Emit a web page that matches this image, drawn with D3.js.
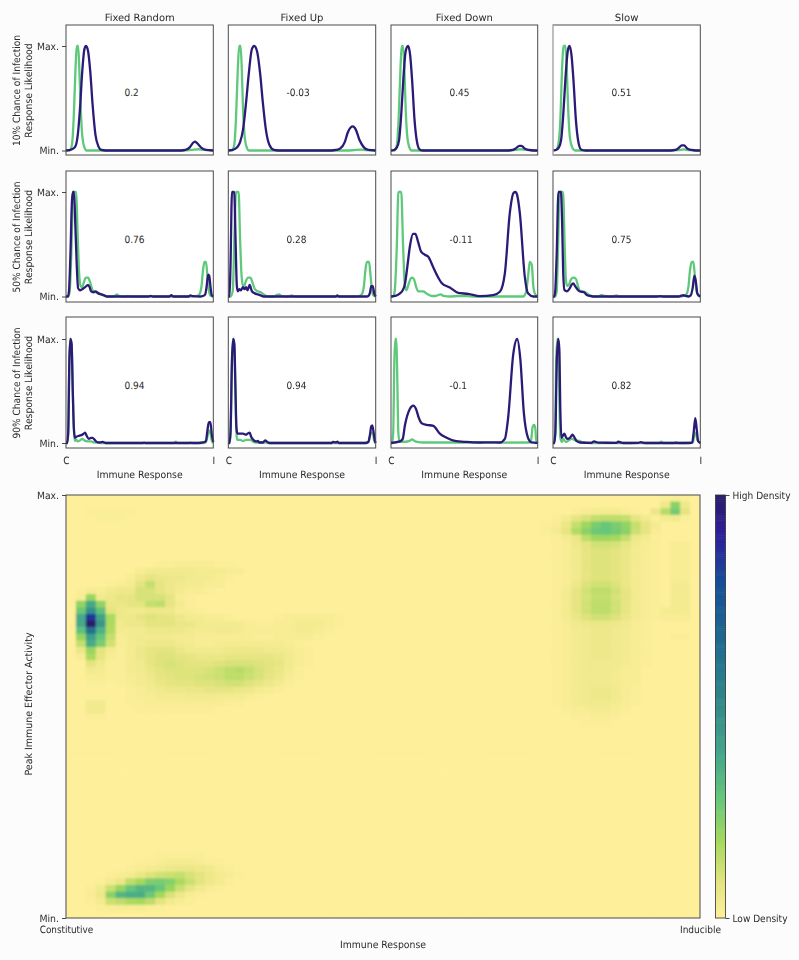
<!DOCTYPE html>
<html><head><meta charset="utf-8">
<script src="https://cdn.jsdelivr.net/npm/d3@7/dist/d3.min.js"></script>
<style>html,body{margin:0;padding:0;background:#fcfcfc}svg{display:block;opacity:.999}text{font-family:"DejaVu Sans",sans-serif;font-size:10px;fill:#2a2a2a;text-rendering:geometricPrecision}</style>
</head><body><svg id="c" width="799" height="960"></svg>
<script>
const columnTitles = ["Fixed Random","Fixed Up","Fixed Down","Slow"];
const rowLabels = ["10% Chance of Infection","50% Chance of Infection","90% Chance of Infection"];
const correlations = [[0.2,-0.03,0.45,0.51],[0.76,0.28,-0.11,0.75],[0.94,0.94,-0.1,0.82]];
const yTickLabels = ["Min.","Max."];
const xTickLabels = ["C","I"];

// each line: [immune response 0-100, likelihood 0-1]
const g10a = [[0,0],[2.5,0],[4,.05],[5.2,.3],[6.5,.8],[7.3,1],[8.2,1],[9,.8],[10,.4],[11,.15],[12.5,.03],[14,0],[80,0],[85,.005],[90,.012],[93,.005],[100,0]];
const p10a = [[0,0],[3,.005],[6,.03],[8,.15],[9.5,.4],[11,.75],[12.5,.97],[13.6,1],[15,.95],[16.5,.75],[18,.45],[20,.15],[22,.04],[24,.005],[27,0],[78,0],[81,.005],[84,.03],[86,.07],[87.5,.085],[89,.07],[92,.025],[95,.005],[100,0]];
const g10b = [[0,0],[2.5,0],[4,.05],[5.2,.3],[6.5,.8],[7.4,1],[8.3,1],[9.1,.8],[10,.4],[11,.15],[12.5,.03],[14,0],[80,0],[85,.003],[90,.008],[93,.003],[100,0]];
const p10b = [[0,0],[3,.005],[6,.03],[8,.08],[10,.2],[12,.45],[14,.75],[16,.97],[17.6,1],[19.5,.95],[21.5,.75],[23.5,.45],[25.5,.2],[28,.05],[31,.005],[34,0],[70,0],[73,.005],[76,.02],[79,.08],[81,.17],[83,.22],[84.5,.23],[86.5,.2],[89,.1],[92,.03],[95,.005],[100,0]];
const g10c = [[0,0],[2.5,0],[4,.05],[5.2,.3],[6.5,.8],[7.3,1],[8.2,1],[9.1,.8],[10,.4],[11,.15],[12.5,.03],[14,0],[80,0],[85,.005],[88,.012],[92,.005],[100,0]];
const p10c = [[0,0],[2,.005],[4,.03],[5.5,.1],[7,.35],[8.5,.7],[10,.95],[11.6,1],[13,.92],[14.5,.65],[16,.3],[17.5,.1],[19.5,.01],[22,0],[80,0],[83,.005],[85,.02],[87.5,.045],[89,.045],[91,.02],[94,.005],[97,0],[100,0]];
const g10d = [[0,0],[2,.005],[3.5,.05],[5,.3],[6.2,.8],[7.2,1],[8.4,1],[9.3,.8],[10.3,.4],[11.5,.12],[13,.03],[15,0],[80,0],[85,.003],[89,.01],[92,.003],[100,0]];
const p10d = [[0,0],[2,.005],[4,.03],[5.5,.1],[7,.35],[8.5,.7],[10,.95],[11.1,1],[12.5,.92],[14,.65],[15.5,.3],[17,.1],[19,.01],[22,0],[80,0],[83,.005],[85,.02],[87.5,.05],[89,.05],[91,.02],[94,.005],[97,0],[100,0]];

const g50a = [[0,0],[1.5,0],[2.5,.05],[3.8,.5],[4.8,1],[6.8,1],[8,.55],[9,.2],[10,.1],[11,.09],[12,.13],[13.5,.18],[15,.18],[16.5,.13],[18,.06],[20,.04],[22,.03],[24,.02],[26,.005],[28,0],[32,0],[33.5,.01],[34.5,.02],[36,.005],[40,0],[42,.005],[44,0],[85,0],[89,.005],[90.5,.02],[92,.1],[93,.25],[94,.33],[95,.33],[96,.2],[97,.06],[98,.01],[100,0]];
const p50a = [[0,0],[1.3,0],[2,.05],[3,.4],[4,.9],[4.7,1],[5.4,1],[6.3,.7],[7.3,.3],[8.2,.08],[9.5,.06],[11,.07],[13,.09],[15,.11],[16,.09],[17,.05],[18.5,.04],[20,.05],[22,.03],[24,.02],[26,.01],[28,0],[56,0],[57.5,.006],[59,0],[70,0],[71.5,.012],[73,0],[83,0],[84.5,.01],[86,.004],[91,0],[93,.005],[94.5,.02],[95.5,.1],[96.5,.21],[97.2,.2],[98.2,.08],[99,.01],[100,0]];
const g50b = [[0,0],[1.5,0],[3,.05],[4.2,.6],[5.2,1],[7,1],[8,.55],[9,.2],[10,.1],[11,.11],[12,.15],[13.5,.18],[15,.18],[16.5,.13],[18,.07],[20,.05],[22,.04],[24,.02],[26,.005],[28,0],[31,0],[33,.015],[34.5,.02],[36,.005],[40,0],[43,.01],[45,0],[85,0],[89,.005],[90.5,.02],[92,.1],[93,.25],[94,.33],[95.5,.33],[96.5,.2],[97.5,.06],[98.5,.01],[100,0]];
const p50b = [[0,0],[.8,0],[1.5,.3],[2.5,1],[4,1],[5,.5],[5.8,.1],[6.5,.05],[7.5,.07],[8.5,.06],[10,.09],[11,.07],[12,.09],[13,.06],[14.5,.11],[16,.05],[18,.03],[20,.02],[22,.01],[24,0],[73,0],[74,.01],[75,0],[94,0],[95,.005],[96,.03],[97,.1],[98,.1],[99,.03],[100,0]];
const g50c = [[0,0],[1.5,0],[2.5,.05],[4,.5],[5,1],[7,1],[8.2,.5],[9.5,.1],[10.5,.06],[12,.12],[14,.18],[15.5,.17],[17,.1],[18.5,.05],[20,.05],[22,.05],[24,.03],[26,.015],[28,.005],[30,.005],[33.8,.02],[36,.005],[40,0],[46,.005],[52,.005],[56,0],[90,0],[92,.04],[93.5,.2],[94.6,.33],[96,.3],[97,.1],[98,.03],[100,0]];
const p50c = [[0,0],[3,.005],[6.1,.03],[8,.06],[9.5,.12],[11,.27],[13,.49],[15,.6],[16.6,.6],[18.5,.52],[20.5,.43],[23.1,.4],[25.4,.38],[28.8,.28],[31.5,.2],[34.5,.13],[40.1,.086],[45.8,.035],[52.7,.025],[60.6,.003],[69.6,.013],[74.2,.045],[77.6,.22],[81,.8],[83.5,.99],[84.8,1],[86,.97],[87.8,.8],[91.2,.19],[93.4,.03],[97,0],[100,0]];
const g50d = [[0,0],[1.5,0],[2.5,.05],[3.5,.5],[4.4,1],[6.8,1],[7.9,.5],[8.8,.15],[9.8,.1],[11,.12],[12.5,.17],[14,.18],[15.5,.17],[17,.1],[18.5,.05],[20,.05],[22,.04],[24,.02],[26,.005],[30,0],[31.5,.005],[33,.015],[35,.005],[40,0],[43,.01],[45,0],[85,0],[89,.005],[90.5,.02],[92,.1],[93,.25],[94.2,.33],[95.3,.33],[96.3,.2],[97.3,.06],[98.5,.01],[100,0]];
const p50d = [[0,0],[.8,0],[1.5,.05],[2.5,.4],[3.7,1],[5.4,1],[6.2,.7],[7,.2],[7.8,.06],[9.5,.05],[11,.07],[12.5,.11],[13.8,.125],[15,.1],[16.5,.07],[18,.05],[19.5,.045],[21,.04],[23,.015],[25,.005],[27,0],[70,0],[73,.003],[75,0],[85,0],[88.5,.012],[90,.005],[92,0],[93.5,.01],[94.8,.08],[96,.2],[97,.14],[98,.03],[99,.01],[100,0]];

const g90a = [[0,0],[.8,0],[1.5,.1],[2.3,.8],[3,1],[3.8,.95],[4.6,.5],[5.5,.1],[6,.02],[7,.03],[8,.015],[10,.03],[11,.04],[13,.02],[15,.015],[17,.015],[19,.005],[25,0],[73,0],[74.5,.012],[76,0],[83,0],[84.5,.006],[86,0],[93,0],[95,.01],[96,.06],[97,.12],[98,.1],[99,.02],[100,0]];
const p90a = [[0,0],[.8,0],[1.5,.1],[2.3,.8],[3,1],[3.8,.95],[4.6,.5],[5.3,.15],[6,.05],[7,.06],[9,.07],[11,.08],[12,.09],[13,.1],[14,.07],[15.5,.04],[17,.05],[18,.05],[19.5,.03],[21,.01],[23,.005],[25,.01],[27,0],[52,0],[53,.003],[54,0],[90,0],[93,.005],[95,.02],[96,.12],[97,.2],[98,.2],[99,.08],[100,.01]];
const g90b = [[0,0],[.8,0],[1.5,.1],[2.5,.8],[3.2,1],[4,.95],[4.8,.5],[5.5,.1],[6,.03],[8,.03],[10,.02],[12,.03],[14,.03],[15,.03],[17,.01],[19,.005],[25,.005],[27,0],[93,0],[95,.01],[96,.06],[97,.1],[98,.1],[99,.02],[100,0]];
const p90b = [[0,0],[.8,0],[1.5,.1],[2.5,.8],[3.4,1],[4.1,.95],[4.9,.5],[5.5,.15],[6.2,.09],[8,.09],[10,.09],[12,.08],[13,.09],[14.5,.1],[15.5,.06],[17,.03],[19,.015],[20,.02],[21,.005],[23.5,.005],[25,.025],[26.5,.01],[28,0],[70,0],[71,.01],[73,.005],[74,.012],[75,0],[93,0],[95,.01],[96,.07],[97,.16],[97.7,.17],[98.7,.09],[99.5,.02],[100,0]];
const g90c = [[0,0],[.8,0],[1.5,.1],[2.3,.8],[3,1],[3.7,1],[4.3,.6],[5,.1],[5.8,.01],[8,.012],[10,.012],[12.5,.02],[14.5,.035],[16,.02],[18,.01],[22,.005],[40,.005],[60,.005],[70,.003],[94,.005],[95.5,.03],[96.5,.15],[97.5,.175],[98.3,.15],[99,.03],[100,0]];
const p90c = [[0,0],[6.1,.015],[8,.04],[9.5,.17],[12.9,.33],[15.2,.36],[17,.33],[19,.24],[20.9,.19],[24.3,.175],[28.8,.165],[33.3,.09],[37.9,.05],[43.5,.02],[51.5,.01],[60.6,.005],[67.4,.006],[74.2,.005],[77.6,.04],[79.9,.25],[83.3,.85],[86,1],[88.2,.8],[90.5,.3],[93.4,.05],[95.7,.005],[100,0]];
const g90d = [[0,0],[.8,0],[1.5,.1],[2.2,.8],[3,1],[3.6,1],[4.2,.5],[5,.05],[6,.01],[7,.04],[8,.02],[9,.01],[11,.03],[13,.04],[15,.025],[18,.02],[20,.005],[25,0],[72,0],[73.5,.012],[75,0],[82,0],[83.5,.008],[85,0],[95,.005],[96,.08],[97,.1],[98,.03],[100,0]];
const p90d = [[0,0],[.8,0],[1.6,.1],[2.6,.8],[3.6,1],[4.3,.9],[5,.3],[5.7,.05],[6.7,.07],[7.7,.09],[9,.05],[10,.04],[11.5,.05],[13.3,.08],[14.7,.05],[16,.02],[18.3,.005],[26,.002],[27.8,.015],[30.8,.003],[43,.002],[44.3,.012],[47.7,0],[58,.002],[59.5,.008],[62.4,0],[93,0],[94.5,.005],[95.5,.1],[96.6,.24],[97.6,.13],[98.5,.02],[100,0]];

const greenLines = [[g10a,g10b,g10c,g10d],[g50a,g50b,g50c,g50d],[g90a,g90b,g90c,g90d]];
const purpleLines = [[p10a,p10b,p10c,p10d],[p50a,p50b,p50c,p50d],[p90a,p90b,p90c,p90d]];

const gridSize = 64;
// density grid: [row from top, first column, values...]
const heatSegments = [
[2,2,[1,1,1,1,1]],[3,3,[1,1,1]],
[10,9,[1,1,2,2,2,2,1,1]],
[11,7,[2,4,4,4,4,4,3,3,3,2,2]],
[12,6,[2,5,7,6,5,5,4,3,3,2,1]],
[13,4,[1,2,3,8,13,7,5,4,3,3,2,2]],
[14,1,[1,3,2,4,5,5,10,10,7,5,3,2,2,1]],
[15,1,[2,20,4,5,7,7,10,10,10,7,2,1]],
[16,1,[21,38,21,6,6,7,8,13,14,7,3,1]],
[17,1,[27,48,30,8,5,4,4,5,5,5,2,2,1]],
[18,1,[38,85,40,17,5,5,7,9,8,7,5,3,3,2,2,1,0,0,0,0,1,2,2,2,2,2,1]],
[19,1,[38,100,45,17,4,5,5,8,8,8,6,6,4,3,3,3,3,2,1,1,2,2,3,3,3,2,1]],
[20,1,[30,62,35,16,3,3,3,5,5,5,5,4,3,3,4,4,3,2,2,2,2,2,3,3,2,1]],
[21,1,[20,42,28,13,2,3,4,4,4,4,3,3,2,2,2,2,2,2,1,1,2,2,2,2,1]],
[22,1,[13,37,25,11,2,3,4,5,5,5,4,3,2,2,3,3,3,3,3,3,3,2,1]],
[23,1,[6,20,8,3,1,3,5,7,8,8,6,4,4,4,4,5,5,5,5,4,4,3,2,1]],
[24,1,[2,17,7,2,1,3,5,7,9,9,8,7,6,6,6,7,7,7,7,7,6,4,2,1]],
[25,2,[8,4,1,1,3,4,7,9,10,9,8,8,8,9,10,10,10,9,8,7,4,2,1]],
[26,2,[4,3,1,1,3,4,6,8,9,9,9,9,10,12,14,15,13,10,8,6,3,1]],
[27,2,[2,2,1,1,2,3,5,7,8,9,9,10,11,12,14,14,12,10,7,5,2,1]],
[28,2,[1,1,0,1,2,3,4,6,7,8,8,9,9,10,11,11,9,7,5,3,1]],
[29,6,[1,2,3,4,5,5,6,6,7,7,7,6,5,3,2,1]],
[30,6,[1,2,2,3,3,3,4,4,4,3,3,3,2,1]],
[31,2,[4,4,0,0,1,1,2,2,2,2,2,2,2,2,1,1]],
[32,2,[4,4,0,0,0,1,1,1,1,1,1,1,1]],
[33,2,[1,1]],
[54,9,[1,1,1,1,1]],
[55,7,[1,1,2,3,3,3,2,1,1]],
[56,6,[1,2,3,4,5,6,6,5,4,2,1]],
[57,4,[1,2,3,6,9,11,12,13,10,8,5,3,2,1]],
[58,3,[1,3,6,14,18,24,25,23,17,12,8,5,3,1]],
[59,2,[1,4,12,20,28,33,33,28,20,12,7,4,2,1]],
[60,2,[2,5,22,33,36,36,27,18,10,5,2,1]],
[61,2,[1,3,12,14,17,18,14,8,4,2,1]],
[62,3,[1,2,2,2,2,1,1]],
[0,60,[1,2,1]],
[1,60,[5,22,5]],
[2,59,[6,15,26,8]],
[2,51,[1,2,3,3,3,2,1]],
[3,49,[1,3,7,10,13,14,14,13,7,4,1,3,4,1]],
[4,48,[1,2,6,13,19,25,28,25,21,13,7,3]],
[5,48,[1,3,7,16,22,27,28,26,22,12,7,2]],
[6,49,[1,3,6,14,19,19,18,13,5,3,1]],
[7,49,[1,2,5,8,11,11,10,7,4,2,1,0,2,2]],
[8,49,[1,2,4,7,9,9,8,6,3,2,1,0,2,2]],
[9,49,[1,2,4,7,9,9,8,6,3,2,1,0,2,2]],
[10,49,[1,2,4,7,9,9,8,6,3,2,1,0,2,2]],
[11,49,[1,2,4,7,9,9,8,6,3,2,1,0,2,2]],
[12,49,[1,2,4,7,9,9,8,6,3,2,1,0,2,2]],
[13,49,[1,2,5,9,11,11,9,6,3,2,1,0,3,3]],
[14,49,[1,3,7,11,14,14,11,7,3,2,1,0,3,3]],
[15,49,[1,3,7,10,13,13,10,7,3,2,1,0,3,3]],
[16,49,[1,3,7,11,14,14,11,7,3,2,1,0,3,3]],
[17,49,[1,3,7,11,14,14,11,7,3,2,1,3,3,3]],
[18,49,[1,3,6,9,11,11,9,6,3,2,1,2,2,2]],
[19,49,[1,2,4,5,6,6,5,4,2,1]],
[20,49,[1,2,3,4,5,5,4,3,2,1]],[21,49,[1,2,3,4,5,5,4,3,2,1,0,0,1,1]],[22,49,[1,2,3,4,5,5,4,3,2,1]],
[23,49,[1,2,3,4,5,5,4,3,2,1]],[24,49,[1,2,3,4,5,5,4,3,2,1]],[25,49,[1,2,3,4,4,4,4,3,2,1]],
[26,49,[1,2,3,4,4,4,3,2,2]],[27,49,[1,2,3,4,4,4,3,2,2]],[28,49,[1,2,3,4,4,4,3,2,2]],
[29,49,[1,2,3,4,5,5,4,2,1]],[30,49,[1,2,3,4,5,5,4,2,1]],[31,49,[1,2,3,4,4,4,3,2,1]],
[32,50,[1,2,2,3,3,2,1]],[33,51,[1,1,2,2,1]],[34,52,[1,1,1]]
];
const densityLevels = [0,8,18,28,37,52,63,79,90,100];
const densityColors = ["#feef9b","#e4e480","#a4d95b","#66c67a","#47aa88","#2f8589","#206f8e","#154e98","#2d209c","#2c1a6a"];
const colorbarLabels = ["Low Density","High Density"];
const labelWidths = {"Fixed Random":70,"Fixed Up":43,"Fixed Down":57,"Slow":23.7,"Immune Response":86,
  "10% Chance of Infection":111,"50% Chance of Infection":111,"90% Chance of Infection":111,"Response Likelihood":94.3,
  "Peak Immune Effector Activity":143,"Constitutive":53.5,"Inducible":41,"High Density":58,"Low Density":55,"Max.":22,"Min.":19.5};

const GREEN="#5ec97a", PURPLE="#2c1a78", SPINE="#4a4a4a";
const svg = d3.select("#c");
const colX = [[66,213.3],[228.3,375.7],[391,537.7],[553,700.3]];
const rowY = [{top:25,bottom:155,min:150.5,max:46},{top:171,bottom:302,min:296.5,max:192},{top:317,bottom:448,min:443,max:339}];

function styleAxis(g){ g.select(".domain").remove(); g.selectAll("line").attr("stroke","#333").attr("stroke-width",.9);
  g.selectAll("text").style("font-family",'"DejaVu Sans",sans-serif').style("font-size","10px").attr("fill","#2a2a2a"); }

rowY.forEach((R,ri)=>{
  colX.forEach((C,ci)=>{
    const x = d3.scaleLinear().domain([0,100]).range(C);
    const y = d3.scaleLinear().domain([0,1]).range([R.min,R.max]);
    const g = svg.append("g");
    g.append("rect").attr("x",C[0]).attr("y",R.top).attr("width",C[1]-C[0]).attr("height",R.bottom-R.top).attr("fill","#fff");
    const line = d3.line().x(d=>x(d[0])).y(d=>y(d[1])).curve(d3.curveMonotoneX);
    g.append("path").datum(greenLines[ri][ci]).attr("d",line).attr("fill","none").attr("stroke",GREEN).attr("stroke-width",2.3);
    g.append("path").datum(purpleLines[ri][ci]).attr("d",line).attr("fill","none").attr("stroke",PURPLE).attr("stroke-width",2.3);
    g.append("rect").attr("x",C[0]).attr("y",R.top).attr("width",C[1]-C[0]).attr("height",R.bottom-R.top).attr("fill","none").attr("stroke",SPINE).attr("stroke-width",1);
    if(ri===0&&ci===3) g.append("line").attr("x1",C[0]).attr("x2",C[0]).attr("y1",R.top).attr("y2",R.bottom).attr("stroke","#d8d8d8").attr("stroke-width",1);
    g.append("text").attr("x",Math.round(C[0]+57.8)+.5).attr("y",Math.round((R.top+R.bottom)/2+6)).text(correlations[ri][ci]);
    if(ci===0){
      const ya = d3.axisLeft(y).tickValues([0,1]).tickFormat(d=>yTickLabels[d]).tickSize(4).tickPadding(3);
      g.append("g").attr("transform",`translate(${C[0]},0)`).call(ya).call(styleAxis);
    }
    if(ri===2){
      const xa = d3.axisBottom(x).tickValues([0,100]).tickFormat(d=>xTickLabels[d/100]).tickSize(0).tickPadding(9);
      g.append("g").attr("transform",`translate(0,${R.bottom})`).call(xa).call(styleAxis);
      g.append("text").attr("x",(C[0]+C[1])/2).attr("y",477.5).attr("text-anchor","middle").text("Immune Response");
    }
    if(ri===0) g.append("text").attr("x",(C[0]+C[1])/2).attr("y",20.5).attr("text-anchor","middle").text(columnTitles[ci]);
  });
  const cy=(R.top+R.bottom)/2+0.5;
  svg.append("text").attr("transform",`translate(20,${cy}) rotate(-90)`).attr("text-anchor","middle").text(rowLabels[ri]);
  svg.append("text").attr("transform",`translate(32,${cy}) rotate(-90)`).attr("text-anchor","middle").text("Response Likelihood");
});

// heat map
const H = {x0:66,x1:700,y0:495,y1:918};
const defs = svg.append("defs");
defs.append("clipPath").attr("id","hclip").append("rect").attr("x",H.x0).attr("y",H.y0).attr("width",H.x1-H.x0).attr("height",H.y1-H.y0);
defs.append("filter").attr("id","soft").attr("x","-2%").attr("y","-2%").attr("width","104%").attr("height","104%")
  .append("feGaussianBlur").attr("stdDeviation",.8);
const color = d3.scaleLinear().domain(densityLevels).range(densityColors).interpolate(d3.interpolateRgb);
const hx = d3.scaleBand().domain(d3.range(gridSize)).range([H.x0,H.x1]);
const hy = d3.scaleBand().domain(d3.range(gridSize)).range([H.y0,H.y1]);
const grid = d3.range(gridSize).map(()=>new Array(gridSize).fill(0));
heatSegments.forEach(([r,c,vals])=>vals.forEach((v,i)=>{ grid[r][c+i]=Math.max(grid[r][c+i],v); }));
const cells = grid.flatMap((row,r)=>row.map((v,c)=>({r,c,v})));
const hmOuter = svg.append("g").attr("clip-path","url(#hclip)");
hmOuter.append("rect").attr("x",H.x0).attr("y",H.y0).attr("width",H.x1-H.x0).attr("height",H.y1-H.y0).attr("fill",color(0));
const hm = hmOuter.append("g").attr("filter","url(#soft)");
hm.selectAll("rect").data(cells).join("rect")
  .attr("x",d=>hx(d.c)).attr("y",d=>hy(d.r)).attr("width",hx.bandwidth()+.4).attr("height",hy.bandwidth()+.4)
  .attr("fill",d=>color(d.v));
svg.append("rect").attr("x",H.x0).attr("y",H.y0).attr("width",H.x1-H.x0).attr("height",H.y1-H.y0).attr("fill","none").attr("stroke",SPINE).attr("stroke-width",1);
const hyAxis = d3.scaleLinear().domain([0,1]).range([H.y1,H.y0]);
svg.append("g").attr("transform",`translate(${H.x0},0)`).call(d3.axisLeft(hyAxis).tickValues([0,1]).tickFormat(d=>yTickLabels[d]).tickSize(4).tickPadding(3)).call(styleAxis);
const hxAxis = d3.scaleLinear().domain([0,1]).range([H.x0,H.x1]);
svg.append("g").attr("transform",`translate(0,${H.y1})`).call(d3.axisBottom(hxAxis).tickValues([0,1]).tickFormat(d=>d?"Inducible":"Constitutive").tickSize(0).tickPadding(8)).call(styleAxis);
svg.append("text").attr("x",383).attr("y",948).attr("text-anchor","middle").text("Immune Response");
svg.append("text").attr("transform","translate(32,704) rotate(-90)").attr("text-anchor","middle").text("Peak Immune Effector Activity");

// colour bar
const cb = svg.append("g");
const cby = d3.scaleLinear().domain([0,100]).range([H.y1,H.y0]);
cb.selectAll("rect").data(d3.range(0,100,.5)).join("rect").attr("x",715.5).attr("width",10)
  .attr("y",d=>cby(d+.5)).attr("height",(H.y1-H.y0)/200+.5).attr("fill",d=>color(d));
cb.append("rect").attr("x",715.5).attr("width",10).attr("y",H.y0).attr("height",H.y1-H.y0).attr("fill","none").attr("stroke","#333").attr("stroke-width",.8);
svg.append("g").attr("transform","translate(725.5,0)").call(d3.axisRight(cby).tickValues([0,100]).tickFormat(d=>colorbarLabels[d/100]).tickSize(4).tickPadding(3)).call(styleAxis);

// narrow the glyphs to the label widths measured on the reference
svg.selectAll("text").each(function(){
  const t=this.textContent, w=labelWidths[t]!==undefined?labelWidths[t]:this.getComputedTextLength()*.9;
  d3.select(this).attr("textLength",w).attr("lengthAdjust","spacingAndGlyphs");
});
</script></body></html>
